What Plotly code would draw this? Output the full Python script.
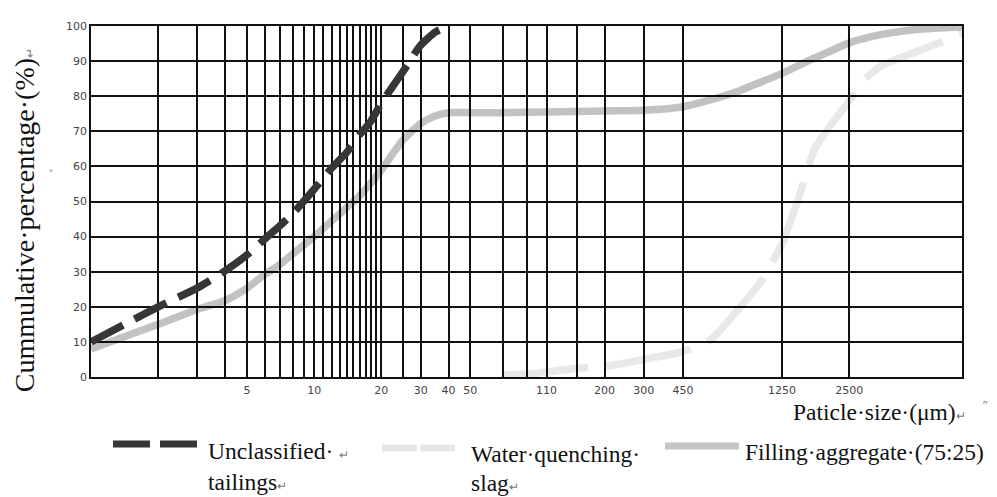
import plotly.graph_objects as go

# ---------------- data ----------------
size_tailings = [1, 2, 3, 4, 5, 6, 7, 8, 10, 12, 14, 16, 18, 20, 25, 30, 35, 40]
pct_tailings = [10, 20, 25.4, 30.3, 34.8, 39.3, 43, 46.5, 53.5, 59.6, 64, 69, 73, 78, 87, 94.5, 98.3, 100]

size_slag = [70, 100, 150, 200, 300, 450, 600, 800, 1000, 1250, 1500, 1750, 2000, 2500, 3000, 3500, 4000, 5000, 6500, 8000]
pct_slag = [0.6, 1.1, 2.5, 3, 5, 7.3, 10.7, 19.5, 27, 38, 52, 65, 70.5, 78.7, 85.4, 88.8, 90.3, 92.7, 95.5, 98]

size_filling = [1, 2, 3, 4, 5, 6, 7, 8, 10, 12, 14, 16, 18, 20, 25, 30, 35, 40, 50, 70, 110,
                200, 300, 450, 600, 800, 1000, 1250, 1600, 2000, 2500, 3500, 5000, 8000]
pct_filling = [8, 15, 19.3, 21.8, 25.3, 29.2, 32, 35, 40, 44.5, 48.3, 51.7, 55.3, 59, 67.5, 72.2, 74.4, 75.3,
               75.3, 75.3, 75.5, 75.8, 76, 77, 79, 81.5, 84, 86.5, 89.8, 92.5, 95.2, 97.6, 99, 99.8]

grid_sizes = [2, 3, 4, 5, 6, 7, 8, 9, 10, 11, 12, 13, 14, 15, 16, 17, 18, 19, 20, 25, 30, 40, 50,
              70, 90, 110, 150, 200, 300, 450, 1250, 2500]
labelled_sizes = [5, 10, 20, 30, 40, 50, 110, 200, 300, 450, 1250, 2500]
y_ticks = [0, 10, 20, 30, 40, 50, 60, 70, 80, 90, 100]

series_names = ["Unclassified·", "Water·quenching·", "Filling·aggregate·(75:25)"]

# ---------------- layout constants (reference pixel frame) ----------------
W, H = 997, 497
OFF = 8  # browser body margin
L, R, T, B = 91, 962, 21, 377
SERIF = "Liberation Serif, Times New Roman, serif"
SANS = "DejaVu Sans, Verdana, sans-serif"


def px(xp):
    return (xp - L) / (R - L)


def py(yp):
    return (B - yp) / (B - T)


fig = go.Figure()

fig.add_trace(go.Scatter(
    x=size_filling, y=pct_filling, mode="lines", name=series_names[2],
    line=dict(color="rgba(0,0,0,0.24)", width=7.5, shape="spline", smoothing=0.6),
    showlegend=False))
fig.add_trace(go.Scatter(
    x=size_slag, y=pct_slag, mode="lines", name=series_names[1],
    line=dict(color="rgba(0,0,0,0.09)", width=7.5, shape="spline", smoothing=0.6, dash="86px,18px"),
    showlegend=False))
fig.add_trace(go.Scatter(
    x=size_tailings, y=pct_tailings, mode="lines", name=series_names[0],
    line=dict(color="#363636", width=7.5, shape="spline", smoothing=0.6, dash="36px,13px"),
    showlegend=False))

ticktext = [str(v) if v in labelled_sizes else "" for v in grid_sizes]

fig.update_xaxes(
    type="log", range=[0, 3.903], tickvals=grid_sizes, ticktext=ticktext,
    showgrid=True, gridcolor="#111", gridwidth=1.5,
    showline=True, linecolor="#111", linewidth=1.6, mirror=True,
    ticks="", zeroline=False, ticklabelstandoff=2,
    tickfont=dict(family=SANS, size=11, color="#444"))
fig.update_yaxes(
    range=[0, 100], tickvals=y_ticks,
    showgrid=True, gridcolor="#111", gridwidth=1.5,
    showline=True, linecolor="#111", linewidth=1.6, mirror=True,
    ticks="", zeroline=False, ticklabelstandoff=0,
    tickfont=dict(family=SANS, size=11, color="#444"))

small = "<span style='font-size:12px;color:#777'>↵</span>"
TXT = 23.5

annotations = [
    dict(x=px(24), y=py(218), text="Cummulative·percentage·(%)" + small, textangle=-90,
         font=dict(family=SERIF, size=28, color="#111"), xanchor="center", yanchor="middle"),
    dict(x=px(47), y=py(164), text="。", textangle=-90,
         font=dict(family=SANS, size=12, color="#444"), xanchor="center", yanchor="middle"),
    dict(x=px(791), y=py(412), text="Paticle·size·(μm)" + small,
         font=dict(family=SERIF, size=TXT, color="#111"), xanchor="left", yanchor="middle"),
    dict(x=px(985), y=py(405), text="ⁿ",
         font=dict(family=SANS, size=11, color="#555"), xanchor="center", yanchor="middle"),
    dict(x=px(206), y=py(452), text=series_names[0] + " " + small,
         font=dict(family=SERIF, size=TXT, color="#111"), xanchor="left", yanchor="middle"),
    dict(x=px(206), y=py(484), text="tailings" + small,
         font=dict(family=SERIF, size=TXT, color="#111"), xanchor="left", yanchor="middle"),
    dict(x=px(469), y=py(455), text=series_names[1],
         font=dict(family=SERIF, size=TXT, color="#111"), xanchor="left", yanchor="middle"),
    dict(x=px(469), y=py(485), text="slag" + small,
         font=dict(family=SERIF, size=TXT, color="#111"), xanchor="left", yanchor="middle"),
    dict(x=px(743), y=py(453), text=series_names[2],
         font=dict(family=SERIF, size=TXT, color="#111"), xanchor="left", yanchor="middle"),
]
for a in annotations:
    a.update(xref="paper", yref="paper", showarrow=False)

shapes = [
    dict(type="line", x0=px(113), x1=px(197), y0=py(445), y1=py(445),
         line=dict(color="#363636", width=7, dash="37px,10px")),
    dict(type="line", x0=px(382), x1=px(455), y0=py(449), y1=py(449),
         line=dict(color="#e6e6e6", width=7, dash="35px,3px")),
    dict(type="line", x0=px(665), x1=px(739), y0=py(447), y1=py(447),
         line=dict(color="#c4c4c4", width=7)),
]
for s in shapes:
    s.update(xref="paper", yref="paper")

fig.update_layout(
    width=W - OFF, height=H - OFF,
    margin=dict(l=L - OFF, r=W - R, t=T - OFF, b=H - B, pad=0),
    paper_bgcolor="white", plot_bgcolor="white",
    showlegend=False, annotations=annotations, shapes=shapes)

fig.write_html("out.html")
